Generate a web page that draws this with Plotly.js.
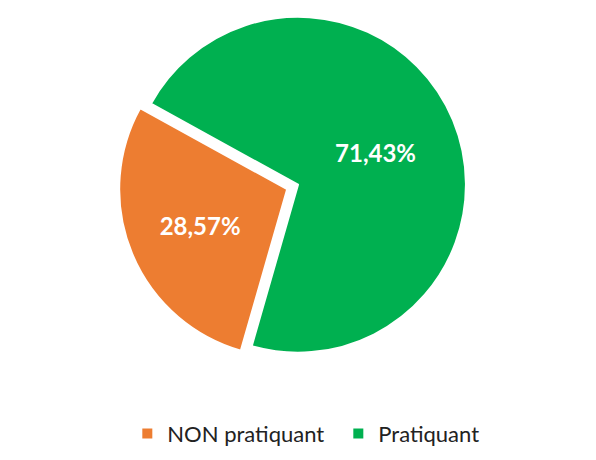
<!DOCTYPE html>
<html>
<head>
<meta charset="utf-8">
<script src="https://cdn.plot.ly/plotly-3.0.1.min.js"></script>
<style>html,body{margin:0;padding:0;background:#fff;}#chart{width:596px;height:460px;}</style>
</head>
<body>
<div id="chart"></div>
<script>
var categories = ["NON pratiquant", "Pratiquant"];
var percentages = [28.57, 71.43];
var labelTexts = ["28,57%", "71,43%"];
var colors = ["#ED7D31", "#00B050"];

var trace = {
  type: "pie",
  labels: categories,
  values: percentages,
  text: labelTexts,
  textinfo: "text",
  textposition: "inside",
  insidetextorientation: "horizontal",
  textfont: {family: "Lato, 'Open Sans', sans-serif", size: 24, color: "#ffffff", weight: "bold"},
  sort: false,
  direction: "clockwise",
  rotation: 196,
  pull: [0.07, 0],
  marker: {colors: colors, line: {color: "#ffffff", width: 2}},
  hoverinfo: "none",
  domain: {x: [0, 1], y: [0.17, 1]}
};

var layout = {
  width: 596,
  height: 460,
  margin: {l: 10, r: 10, t: 5, b: 10},
  paper_bgcolor: "#ffffff",
  showlegend: true,
  legend: {
    orientation: "h",
    x: 0.57, xanchor: "center",
    y: 0.01, yanchor: "middle",
    font: {family: "Lato, 'Open Sans', sans-serif", size: 22, color: "#222222"},
    entrywidth: 166,
    entrywidthmode: "pixels",
    traceorder: "normal"
  }
};

Plotly.newPlot("chart", [trace], layout, {displayModeBar: false, staticPlot: true});
</script>
</body>
</html>
